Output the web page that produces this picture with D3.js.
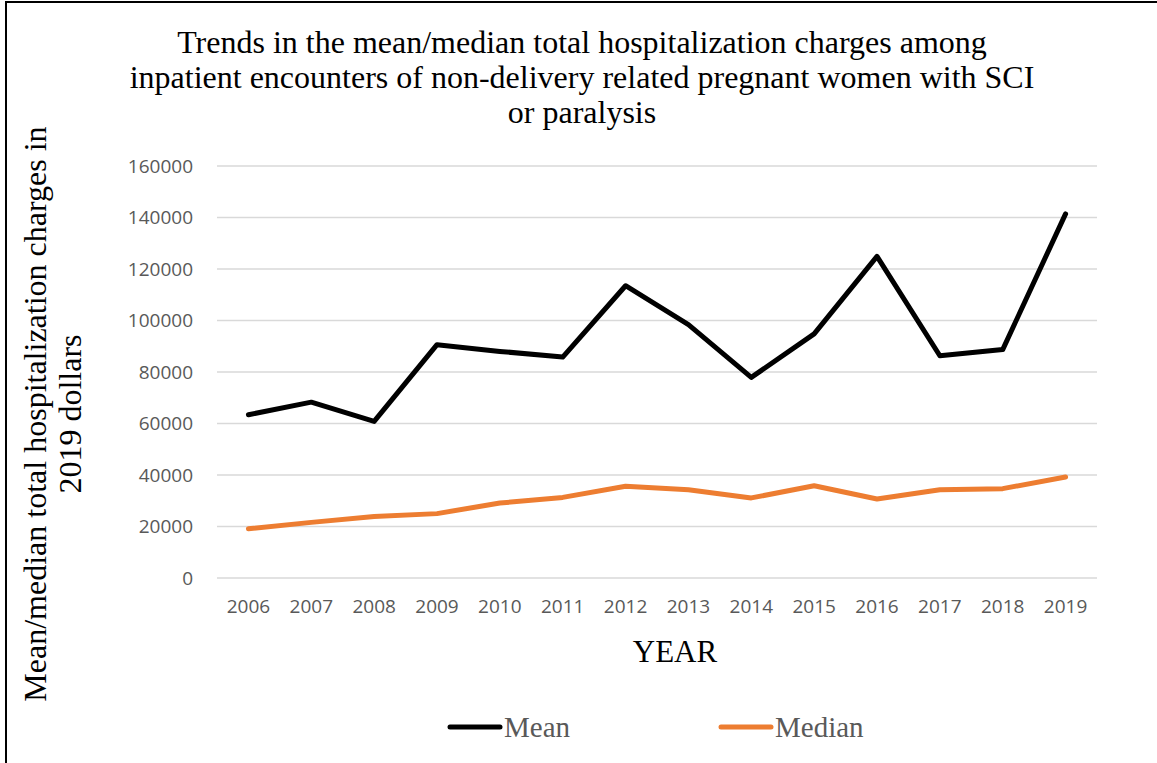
<!DOCTYPE html>
<html>
<head>
<meta charset="utf-8">
<script src="https://cdn.jsdelivr.net/npm/d3@7"></script>
<style>
  body { margin: 0; background: #fff; }
  svg { display: block; }
</style>
</head>
<body>
<div id="chart"></div>
<script>
(function () {

  var years = ['2006', '2007', '2008', '2009', '2010', '2011', '2012',
               '2013', '2014', '2015', '2016', '2017', '2018', '2019']
  var meanCharges = [63400, 68300, 60800, 90600, 88000, 85800, 113500,
                     98400, 77900, 94800, 124900, 86300, 88700, 141400]
  var medianCharges = [19100, 21600, 23900, 25000, 29100, 31300, 35600,
                       34300, 31100, 35800, 30700, 34300, 34700, 39200]
  var yTicks = [0, 20000, 40000, 60000, 80000, 100000, 120000, 140000, 160000]

  var titleLines = ['Trends in the mean/median total hospitalization charges among',
                    'inpatient encounters of non-delivery related pregnant women with SCI',
                    'or paralysis']
  var yTitleLines = ['Mean/median total hospitalization charges in', '2019 dollars']

  var W = 1157, H = 763
  var serif = '"Liberation Serif", "Times New Roman", serif'
  var sans = '"Open Sans", "Liberation Sans", sans-serif'

  var svg = d3.select('#chart').append('svg')
    .attr('width', W)
    .attr('height', H)

  // frame
  svg.append('rect')
    .attr('x', 6).attr('y', 2)
    .attr('width', W + 10).attr('height', H + 10)
    .attr('fill', 'none')
    .attr('stroke', '#000')
    .attr('stroke-width', 2)

  var x = d3.scaleBand()
    .domain(years)
    .range([217, 1097])

  var y = d3.scaleLinear()
    .domain([0, 160000])
    .range([578, 166])

  // gridlines
  svg.append('g')
    .selectAll('line')
    .data(yTicks)
    .enter().append('line')
    .attr('x1', 217)
    .attr('x2', 1097)
    .attr('y1', function (d) { return y(d) })
    .attr('y2', function (d) { return y(d) })
    .attr('stroke', '#d9d9d9')
    .attr('stroke-width', 1.5)

  var yAxis = d3.axisLeft(y)
    .tickValues(yTicks)
    .tickSize(0)
    .tickPadding(24)
    .tickFormat(d3.format('d'))
  svg.append('g')
    .attr('class', 'axis y-axis')
    .attr('transform', 'translate(217,0)')
    .call(yAxis)

  var xAxis = d3.axisBottom(x)
    .tickSize(0)
    .tickPadding(22)
  svg.append('g')
    .attr('class', 'axis x-axis')
    .attr('transform', 'translate(0,578)')
    .call(xAxis)

  svg.selectAll('.axis .domain').remove()
  svg.selectAll('.axis text')
    .style('font-family', sans)
    .style('font-size', '19px')
    .attr('fill', '#595959')

  var line = d3.line()
    .x(function (d, i) { return x(years[i]) + x.bandwidth() / 2 })
    .y(function (d) { return y(d) })

  svg.append('path')
    .datum(medianCharges)
    .attr('d', line)
    .attr('fill', 'none')
    .attr('stroke', '#ED7D31')
    .attr('stroke-width', 5)
    .attr('stroke-linecap', 'round')
    .attr('stroke-linejoin', 'round')

  svg.append('path')
    .datum(meanCharges)
    .attr('d', line)
    .attr('fill', 'none')
    .attr('stroke', '#000')
    .attr('stroke-width', 5)
    .attr('stroke-linecap', 'round')
    .attr('stroke-linejoin', 'round')

  // title
  svg.append('text')
    .attr('x', 582)
    .attr('y', 53)
    .attr('text-anchor', 'middle')
    .style('font-family', serif)
    .style('font-size', '32px')
    .selectAll('tspan')
    .data(titleLines)
    .enter().append('tspan')
    .attr('x', 582)
    .attr('dy', function (d, i) { return i === 0 ? 0 : 35 })
    .text(function (d) { return d })

  // y title
  svg.append('text')
    .attr('transform', 'translate(46,414) rotate(-90)')
    .attr('text-anchor', 'middle')
    .style('font-family', serif)
    .style('font-size', '32px')
    .selectAll('tspan')
    .data(yTitleLines)
    .enter().append('tspan')
    .attr('x', 0)
    .attr('dy', function (d, i) { return i === 0 ? 0 : 35 })
    .text(function (d) { return d })

  svg.append('text')
    .attr('x', 675)
    .attr('y', 662)
    .attr('text-anchor', 'middle')
    .style('font-family', serif)
    .style('font-size', '31px')
    .text('YEAR')

  // legend
  var legend = [
    { name: 'Mean', color: '#000', x: 450 },
    { name: 'Median', color: '#ED7D31', x: 721 }
  ]
  var lg = svg.append('g').selectAll('g')
    .data(legend)
    .enter().append('g')
    .attr('transform', function (d) { return 'translate(' + d.x + ',727)' })
  lg.append('line')
    .attr('x1', 0).attr('x2', 50)
    .attr('stroke', function (d) { return d.color })
    .attr('stroke-width', 5)
    .attr('stroke-linecap', 'round')
  lg.append('text')
    .attr('x', 54)
    .attr('y', 10)
    .style('font-family', serif)
    .style('font-size', '29px')
    .attr('fill', '#595959')
    .text(function (d) { return d.name })

})()
</script>
</body>
</html>
